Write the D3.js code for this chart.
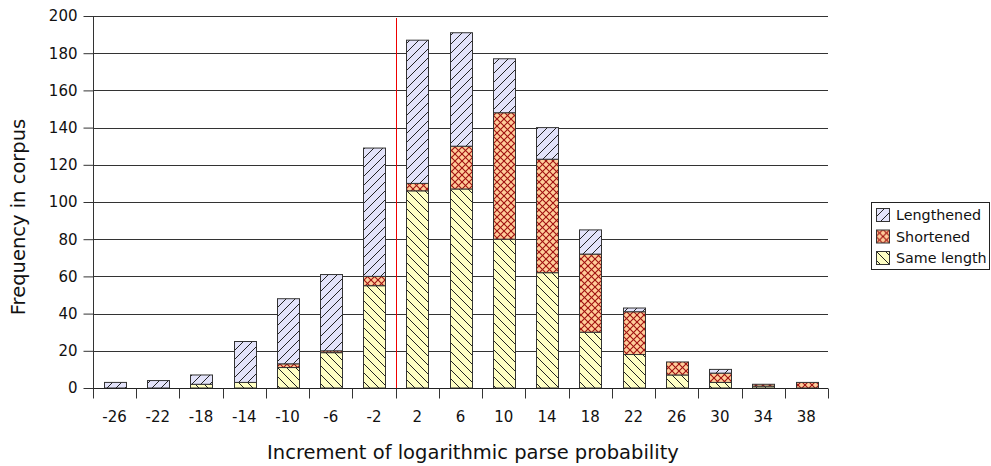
<!DOCTYPE html>
<html>
<head>
<meta charset="utf-8">
<script src="https://cdn.jsdelivr.net/npm/d3@7"></script>
<style>
  body { margin: 0; background: white; }
  text { font-family: "DejaVu Sans", sans-serif; }
</style>
</head>
<body>
<svg id="chart" width="991" height="466"></svg>
<script>
// data
const categories = ["-26", "-22", "-18", "-14", "-10", "-6", "-2", "2", "6", "10", "14", "18", "22", "26", "30", "34", "38"];
const sameLength = [0, 0, 2, 3, 11, 19, 55, 106, 107, 80, 62, 30, 18, 7, 3, 1, 0];
const shortened  = [0, 0, 0, 0, 2, 1, 5, 4, 23, 68, 61, 42, 23, 7, 5, 1, 3];
const lengthened = [3, 4, 5, 22, 35, 41, 69, 77, 61, 29, 17, 13, 2, 0, 2, 0, 0];
const yTicks = [0, 20, 40, 60, 80, 100, 120, 140, 160, 180, 200];
const seriesNames = ["Same length", "Shortened", "Lengthened"];

const svg = d3.select("#chart");
const margin = {left: 93, right: 163, top: 16, bottom: 78};
const width = 991, height = 466;
const plotW = width - margin.left - margin.right;
const plotH = height - margin.top - margin.bottom;

// patterns
const defs = svg.append("defs");
function hatch(id, bg, dir, color, size) {
    const p = defs.append("pattern").attr("id", id)
        .attr("patternUnits", "userSpaceOnUse")
        .attr("width", size).attr("height", size);
    p.append("rect").attr("width", size).attr("height", size).attr("fill", bg);
    const s = size;
    if (dir === "up" || dir === "cross") {
        p.append("path").attr("d", `M0,${s} L${s},0 M${-s/2},${s/2} L${s/2},${-s/2} M${s/2},${s*1.5} L${s*1.5},${s/2}`)
            .attr("stroke", color).attr("stroke-width", dir === "cross" ? 1.1 : 1);
    }
    if (dir === "down" || dir === "cross") {
        p.append("path").attr("d", `M0,0 L${s},${s} M${-s/2},${s/2} L${s/2},${s*1.5} M${s/2},${-s/2} L${s*1.5},${s/2}`)
            .attr("stroke", color).attr("stroke-width", dir === "cross" ? 1.1 : 1);
    }
}
hatch("pat-len", "#e3e3fa", "up", "#222", 9);
hatch("pat-short", "#ffcc99", "cross", "#a01010", 7);
hatch("pat-same", "#ffffc4", "down", "#222", 9);
const fills = {"Same length": "url(#pat-same)", "Shortened": "url(#pat-short)", "Lengthened": "url(#pat-len)"};

const x = d3.scaleBand().domain(categories).range([margin.left, margin.left + plotW]).paddingInner(0.5).paddingOuter(0.25);
const y = d3.scaleLinear().domain([0, 200]).range([margin.top + plotH, margin.top]);

// gridlines
svg.append("g").selectAll("line.grid")
    .data(yTicks.filter(d => d > 0))
    .join("line")
    .attr("class", "grid")
    .attr("x1", margin.left).attr("x2", margin.left + plotW)
    .attr("y1", d => Math.round(y(d)) + 0.5).attr("y2", d => Math.round(y(d)) + 0.5)
    .attr("stroke", "#333").attr("stroke-width", 1);

// y axis
const yAxis = svg.append("g")
    .attr("transform", `translate(${margin.left + 0.5},0)`)
    .call(d3.axisLeft(y).tickValues(yTicks).tickSize(10).tickPadding(6));
yAxis.select(".domain").attr("d", `M0,${margin.top} V${margin.top + plotH + 10}`).attr("stroke", "#333");
yAxis.selectAll(".tick line").attr("stroke", "#333");
yAxis.selectAll(".tick text").attr("font-size", 15).attr("fill", "#111").attr("font-family", "DejaVu Sans");

// stacked data
const rows = categories.map((c, i) => ({cat: c, "Same length": sameLength[i], "Shortened": shortened[i], "Lengthened": lengthened[i]}));
const stacked = d3.stack().keys(seriesNames)(rows);

svg.append("g").selectAll("g")
    .data(stacked)
    .join("g")
    .attr("fill", d => fills[d.key])
    .selectAll("rect")
    .data(d => d.filter(s => s[1] - s[0] > 0))
    .join("rect")
    .attr("x", d => Math.round(x(d.data.cat)) + 0.5)
    .attr("y", d => y(d[1]))
    .attr("width", Math.round(x.bandwidth()))
    .attr("height", d => y(d[0]) - y(d[1]))
    .attr("stroke", "#333")
    .attr("stroke-width", 1);

// x axis baseline and ticks at category boundaries
const baseY = Math.round(y(0)) + 0.5;
svg.append("line")
    .attr("x1", margin.left).attr("x2", margin.left + plotW)
    .attr("y1", baseY).attr("y2", baseY)
    .attr("stroke", "#222").attr("stroke-width", 1.2);
const bounds = d3.range(categories.length + 1).map(i => margin.left + i * plotW / categories.length);
svg.append("g").selectAll("line.xtick")
    .data(bounds)
    .join("line")
    .attr("class", "xtick")
    .attr("x1", d => Math.round(d) + 0.5).attr("x2", d => Math.round(d) + 0.5)
    .attr("y1", baseY).attr("y2", baseY + 10)
    .attr("stroke", "#333");
svg.append("g").selectAll("text.xlab")
    .data(categories)
    .join("text")
    .attr("class", "xlab")
    .attr("x", d => x(d) + x.bandwidth() / 2)
    .attr("y", 422)
    .attr("text-anchor", "middle")
    .attr("font-size", 15)
    .attr("fill", "#111")
    .text(d => d);

// red reference line between -2 and 2
svg.append("line")
    .attr("x1", Math.round(bounds[7]) + 0.5).attr("x2", Math.round(bounds[7]) + 0.5)
    .attr("y1", 18).attr("y2", baseY - 0.5)
    .attr("stroke", "#ee0000").attr("stroke-width", 1);

// axis titles
svg.append("text")
    .attr("x", 473).attr("y", 459)
    .attr("text-anchor", "middle")
    .attr("font-size", 19.5)
    .attr("fill", "#111")
    .text("Increment of logarithmic parse probability");
svg.append("text")
    .attr("transform", "translate(25,217) rotate(-90)")
    .attr("text-anchor", "middle")
    .attr("font-size", 19.5)
    .attr("fill", "#111")
    .text("Frequency in corpus");

// legend
const legend = svg.append("g");
legend.append("rect")
    .attr("x", 871.5).attr("y", 202.5).attr("width", 118).attr("height", 67)
    .attr("fill", "white").attr("stroke", "#222");
const legendItems = ["Lengthened", "Shortened", "Same length"];
const li = legend.selectAll("g.item")
    .data(legendItems)
    .join("g")
    .attr("class", "item")
    .attr("transform", (d, i) => `translate(876,${208 + i * 21.5})`);
li.append("rect")
    .attr("x", 0.5).attr("y", 0.5).attr("width", 13).attr("height", 13)
    .attr("fill", d => fills[d]).attr("stroke", "#333");
li.append("text")
    .attr("x", 20).attr("y", 12)
    .attr("font-size", 14.3)
    .attr("fill", "#111")
    .text(d => d);
</script>
</body>
</html>
